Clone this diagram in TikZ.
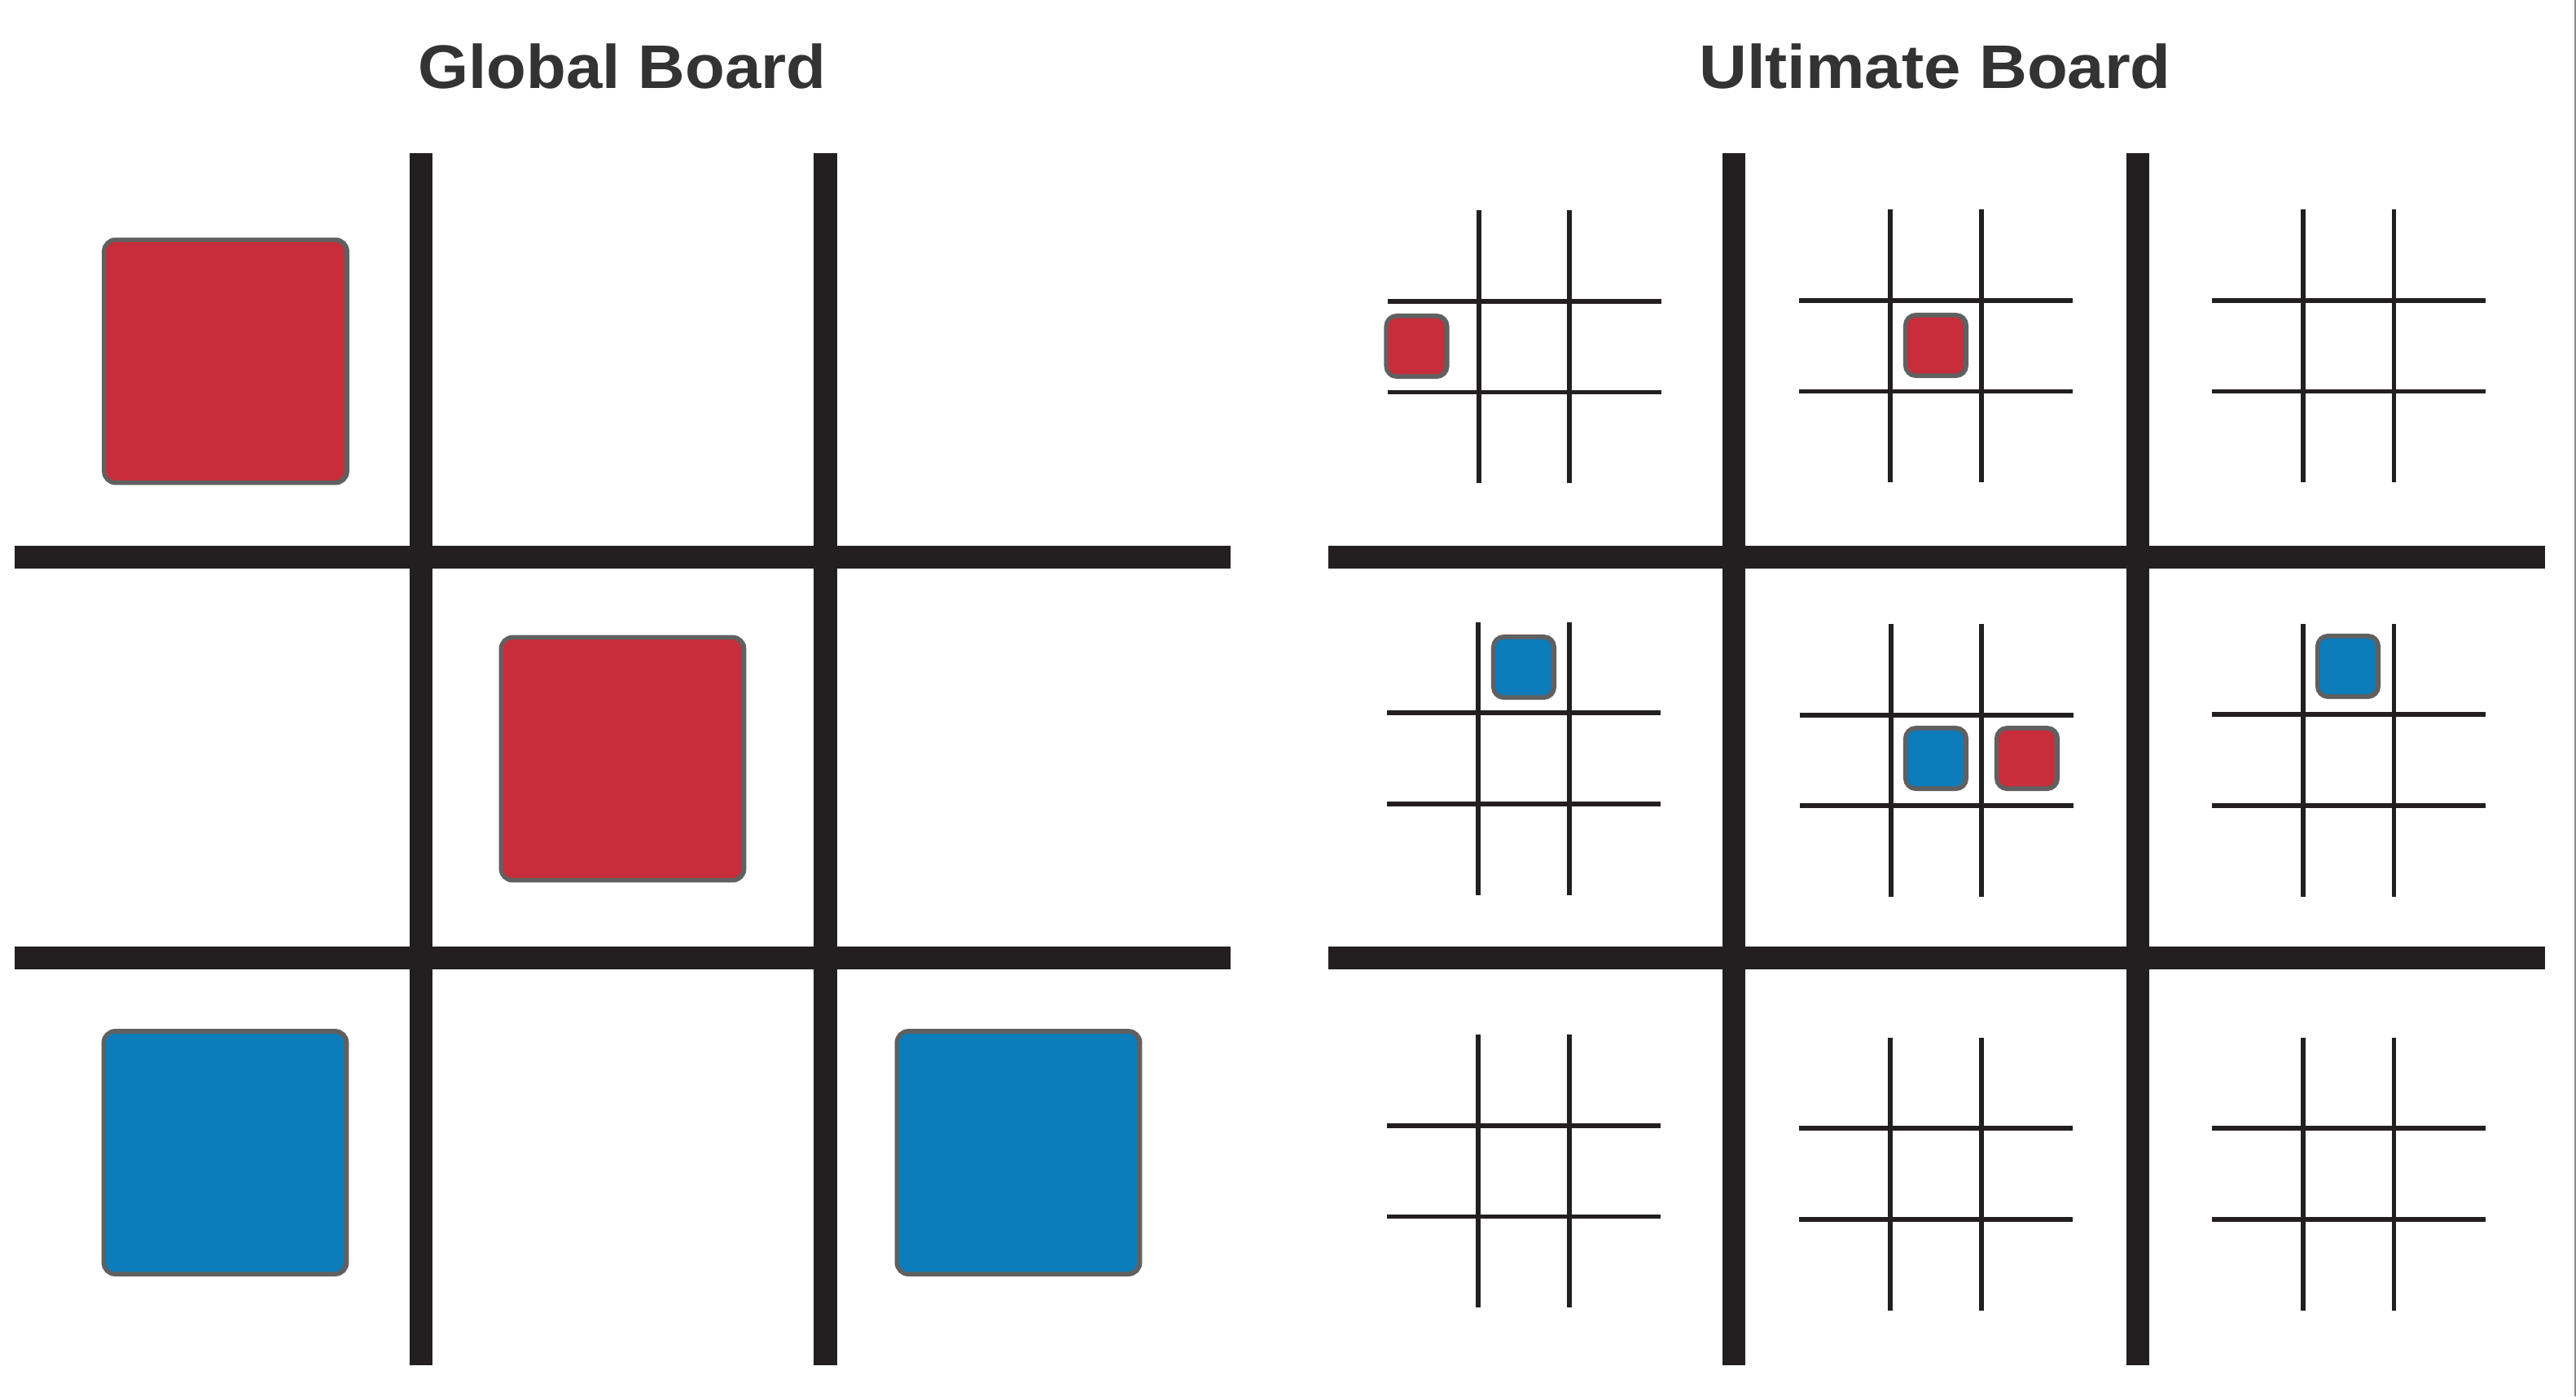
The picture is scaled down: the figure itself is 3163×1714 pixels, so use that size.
\documentclass[tikz,border=0pt]{standalone}
\usepackage{fontspec}
\newfontfamily\boardfont{Liberation Sans}
\definecolor{boardblack}{HTML}{231F20}
\definecolor{xred}{HTML}{C82D3B}
\definecolor{oblue}{HTML}{0D7CBA}
\definecolor{rimgrey}{HTML}{606060}
\definecolor{titlegrey}{HTML}{333333}
\definecolor{edgegrey}{HTML}{8A8A8A}

\tikzset{
  title/.style={font=\boardfont\bfseries\fontsize{21.5pt}{24pt}\selectfont,
    text=titlegrey, anchor=base, inner sep=0pt},
  bigline/.style={draw=boardblack, line width=7.97pt},
  smallline/.style={draw=boardblack, line width=1.62pt},
  bigpiece/.style={draw=rimgrey, line width=1.6pt, rounded corners=4pt,
    minimum size=2.98cm, inner sep=0pt},
  smallpiece/.style={draw=rimgrey, line width=1.6pt, rounded corners=3.6pt,
    minimum size=0.744cm, inner sep=0pt},
}

\begin{document}
\begin{tikzpicture}[x=0.01cm,y=-0.01cm]
  \useasboundingbox (0,0) rectangle (3163,1714);

  \node[title] (globaltitle) at (764,108) {\scalebox{1.056}[1]{Global Board}};
  \node[title] (ultimatetitle) at (2376,108) {\scalebox{1.078}[1]{Ultimate Board}};

  % global board
  \foreach \x in {517,1013.5}
    \draw[bigline] (\x,188) -- (\x,1676);
  \foreach \y in {684,1176}
    \draw[bigline] (17.5,\y) -- (1511,\y);

  \node[bigpiece, fill=xred]  (g-1-1) at (277,443.5) {};
  \node[bigpiece, fill=xred]  (g-2-2) at (764.5,931.5) {};
  \node[bigpiece, fill=oblue] (g-3-1) at (276.5,1415) {};
  \node[bigpiece, fill=oblue] (g-3-3) at (1250.5,1415) {};

  % ultimate board
  \foreach \x in {2129,2625}
    \draw[bigline] (\x,188) -- (\x,1676);
  \foreach \y in {684,1176}
    \draw[bigline] (1631,\y) -- (3125,\y);

  \foreach \cx/\cy in {1871.5/425.8, 2377/424.6, 2883.6/424.6,
                       1871/931, 2377.5/933.5, 2883.6/933,
                       1871/1437.7, 2377/1441, 2883.6/1441}
  {
    \draw[smallline] (\cx-55.8,\cy-167.5) -- (\cx-55.8,\cy+167.5);
    \draw[smallline] (\cx+55.8,\cy-167.5) -- (\cx+55.8,\cy+167.5);
    \draw[smallline] (\cx-168,\cy-55.8) -- (\cx+168,\cy-55.8);
    \draw[smallline] (\cx-168,\cy+55.8) -- (\cx+168,\cy+55.8);
  }

  \node[smallpiece, fill=xred]  (u-1-1) at (1739.5,425) {};
  \node[smallpiece, fill=xred]  (u-1-2) at (2377,424) {};
  \node[smallpiece, fill=oblue] (u-2-1) at (1871,819) {};
  \node[smallpiece, fill=oblue] (u-2-2a) at (2377,931) {};
  \node[smallpiece, fill=xred]  (u-2-2b) at (2489,931) {};
  \node[smallpiece, fill=oblue] (u-2-3) at (2883,818) {};

  \draw[edgegrey, line width=0.57pt] (3161.5,0) -- (3161.5,1714);
\end{tikzpicture}
\end{document}
